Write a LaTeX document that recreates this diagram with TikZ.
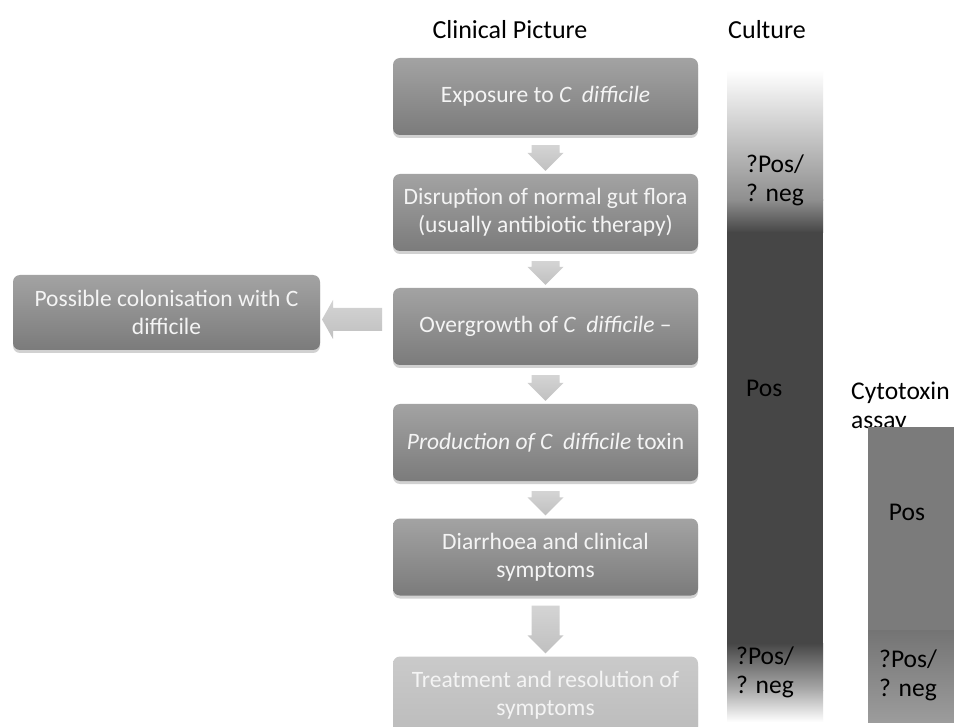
\documentclass[tikz,border=0pt]{standalone}
\usepackage{fontspec}
\setmainfont{Carlito}
\usetikzlibrary{calc,shadows}
\definecolor{boxtop}{HTML}{A3A3A3}
\definecolor{boxbot}{HTML}{7B7B7B}
\definecolor{lastop}{HTML}{CACACA}
\definecolor{lasbot}{HTML}{BCBCBC}
\definecolor{boxtext}{HTML}{F4F4F4}
\definecolor{arrtop}{HTML}{D4D4D4}
\definecolor{arrbot}{HTML}{C0C0C0}
\definecolor{culdark}{HTML}{464646}
\definecolor{culmid}{HTML}{8E8E8E}
\definecolor{cullow}{HTML}{ABABAB}
\definecolor{cytotop}{HTML}{7B7B7B}
\definecolor{cytoa}{HTML}{747474}
\definecolor{cytob}{HTML}{9C9C9C}
\newcommand{\downblk}[2]{%
  \path[blkarrow] ($(#1.south)+(-14,10)$) -- ($(#1.south)+(14,10)$)
    -- ($(#2.north)+(14,-21)$) -- ($(#2.north)+(18,-21)$)
    -- ($(#2.north)+(0,-3)$) -- ($(#2.north)+(-18,-21)$)
    -- ($(#2.north)+(-14,-21)$) -- cycle;}
\begin{document}
\begin{tikzpicture}[x=1pt,y=-1pt,
  flowbox/.style={rounded corners=7pt, minimum width=305pt, minimum height=77pt,
    top color=boxtop, bottom color=boxbot, draw=none, text=boxtext, align=center,
    font=\fontsize{23.5}{28}\selectfont, inner sep=0pt,
    drop shadow={shadow xshift=0pt, shadow yshift=-3pt, opacity=0.18, fill=black}},
  lastbox/.style={flowbox, top color=lastop, bottom color=lasbot},
  blkarrow/.style={top color=arrtop, bottom color=arrbot, draw=none},
  sidearrow/.style={top color=arrtop, bottom color=arrbot, draw=none},
  hdr/.style={font=\fontsize{26}{30}\selectfont, text=black, inner sep=0pt},
  lbl/.style={font=\fontsize{25.5}{29}\selectfont, text=black, inner sep=0pt, align=left}]
\useasboundingbox (0,0) rectangle (954,727);
\fill[white] (0,0) rectangle (954,727);

% headers
\node[hdr] (hclin) at (510,30) {Clinical Picture};
\node[hdr] (hcult) at (767,30) {Culture};

% flow boxes
\node[flowbox] (b1) at (545.5,96.5) {Exposure to \textit{C\ \ difficile}};
\node[flowbox] (b2) at (545.5,212.5) {Disruption of normal gut flora\\(usually antibiotic therapy)};
\node[flowbox] (b3) at (545.5,326.5) {Overgrowth of \textit{C\ \ difficile} –};
\node[flowbox] (b4) at (545.5,442.5) {\textit{Production of C\ \ difficile} toxin};
\node[flowbox] (b5) at (545.5,557) {Diarrhoea and clinical\\symptoms};
\node[lastbox] (b6) at (545.5,695) {Treatment and resolution of\\symptoms};
\node[flowbox, minimum width=307pt, minimum height=75pt] (lb) at (166.5,312.5) {Possible colonisation with C\\difficile};

% block arrows
\downblk{b1}{b2}
\downblk{b2}{b3}
\downblk{b3}{b4}
\downblk{b4}{b5}
\downblk{b5}{b6}
\coordinate (m) at ($(b3.west)!0.5!(lb.east)$);
\path[sidearrow] ($(m)+(25.5,-11.5)$) -- ($(m)+(-23.5,-11.5)$) -- ($(m)+(-23.5,-19.5)$)
  -- ($(m)+(-34.5,0)$) -- ($(m)+(-23.5,19.5)$) -- ($(m)+(-23.5,11.5)$)
  -- ($(m)+(25.5,11.5)$) -- cycle;

% culture bar
\path[top color=white, bottom color=culmid] (727,70) rectangle (823,200.5);
\path[top color=culmid, bottom color=culdark] (727,200) rectangle (823,232.5);
\fill[culdark] (727,232) rectangle (823,643.5);
\path[top color=culdark, bottom color=cullow] (727,643) rectangle (823,690.5);
\path[top color=cullow, bottom color=white] (727,690) rectangle (823,722);

\node[lbl, anchor=west] (cq1) at (746,180) {?Pos/\\? neg};
\node[lbl, anchor=west] (cpos) at (746,388) {Pos};
\node[lbl, anchor=west] (cq2) at (736,672) {?Pos/\\? neg};

% cytotoxin
\node[lbl, anchor=west] (hcyto) at (851,407) {Cytotoxin\\assay};
\fill[cytotop] (868,427) rectangle (954,630.5);
\path[top color=cytoa, bottom color=cytob] (868,630) rectangle (954,722);
\node[lbl, anchor=center] (ypos) at (907,512) {Pos};
\node[lbl, anchor=west] (yq) at (879,675) {?Pos/\\? neg};
\end{tikzpicture}
\end{document}
